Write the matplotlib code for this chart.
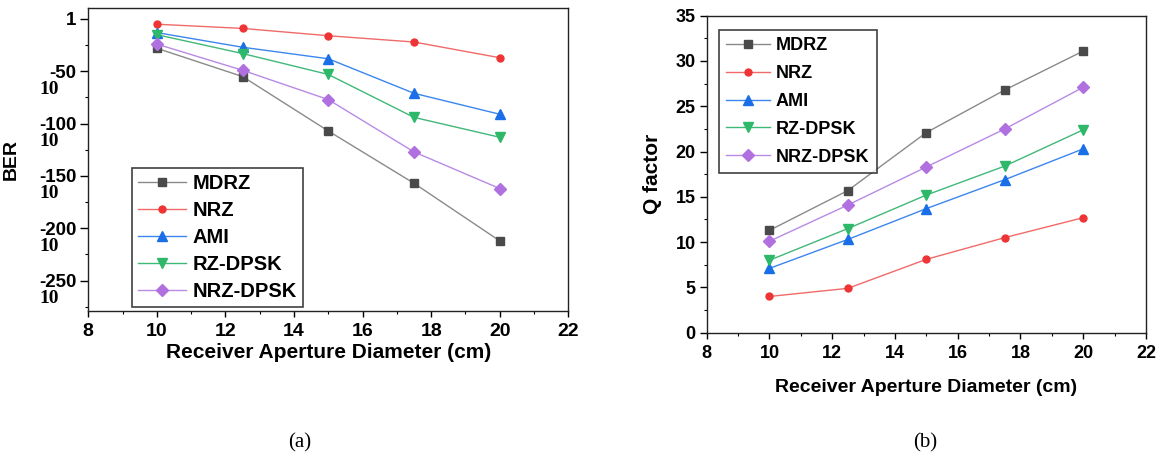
import matplotlib
matplotlib.use("Agg")
import matplotlib.pyplot as plt
from matplotlib.ticker import MultipleLocator

plt.rcParams['font.family'] = ['Liberation Sans', 'DejaVu Sans']
plt.rcParams['font.weight'] = 'bold'
plt.rcParams['axes.labelweight'] = 'bold'

# data
aperture = [10, 12.5, 15, 17.5, 20]
schemes = ['MDRZ', 'NRZ', 'AMI', 'RZ-DPSK', 'NRZ-DPSK']

# BER shown as log10 exponent
ber_mdrz = [-28, -55, -107, -157, -212]
ber_nrz = [-5, -9, -16, -22, -37]
ber_ami = [-13, -27, -38, -71, -91]
ber_rzdpsk = [-15, -33, -53, -94, -113]
ber_nrzdpsk = [-24, -49, -77, -127, -162]

q_mdrz = [11.3, 15.7, 22.1, 26.8, 31.1]
q_nrz = [4.0, 4.9, 8.1, 10.5, 12.7]
q_ami = [7.1, 10.3, 13.7, 16.9, 20.3]
q_rzdpsk = [8.0, 11.5, 15.2, 18.4, 22.4]
q_nrzdpsk = [10.1, 14.1, 18.3, 22.5, 27.1]

ber_ticks = [0, -50, -100, -150, -200, -250]
ber_ticklabels = ['1', '-50', '-100', '-150', '-200', '-250']

line_colors = ['#8a8a8a', '#f06a6a', '#3c86ee', '#40b878', '#b88ae6']
marker_colors = ['#4a4a4a', '#ee3434', '#1a6ee8', '#2eb86a', '#b070e0']
markers = ['s', 'o', '^', 'v', 'D']
msizes = [6, 5, 6.5, 6.5, 6]

fig = plt.figure(figsize=(11.62, 4.55), dpi=100)
W, H = 1162, 455
ax1 = fig.add_axes([88.3 / W, 1 - 311 / H, 480 / W, 303 / H])
ax2 = fig.add_axes([706.7 / W, 1 - 332.7 / H, 439.3 / W, 317 / H])


def style(ax, fs):
    for s in ax.spines.values():
        s.set_linewidth(1.0)
        s.set_color('#222222')
    ax.tick_params(which='major', direction='out', length=4, width=1.0, pad=5,
                   labelsize=fs, top=False, right=False)
    ax.tick_params(which='minor', direction='out', length=2.2, width=0.8,
                   top=False, right=False)
    ax.xaxis.set_major_locator(MultipleLocator(2))
    ax.xaxis.set_minor_locator(MultipleLocator(1))
    ax.set_xlim(8, 22)


# (a) BER
ber_all = [ber_mdrz, ber_nrz, ber_ami, ber_rzdpsk, ber_nrzdpsk]
for i, name in enumerate(schemes):
    ax1.plot(aperture, ber_all[i], color=line_colors[i], lw=1.0, marker=markers[i],
             ms=msizes[i], mfc=marker_colors[i], mec=marker_colors[i], label=name)
style(ax1, 14)
ax1.set_ylim(-279, 10.5)
ax1.set_yticks(ber_ticks)
ax1.set_yticklabels(ber_ticklabels, fontsize=13.5)
ax1.tick_params(axis='y', which='major', length=5.5, pad=3)
ax1.yaxis.set_minor_locator(MultipleLocator(25))
for t in ber_ticks[1:]:
    ax1.annotate('10', xy=(0, t), xycoords=('axes fraction', 'data'),
                 xytext=(-39, -18), textcoords='offset pixels', ha='center',
                 va='center', fontsize=14, family='Liberation Serif',
                 fontweight='bold')
ax1.set_xlabel('Receiver Aperture Diameter (cm)', fontsize=15, labelpad=2)
ax1.set_ylabel('BER', fontsize=14)
ax1.yaxis.set_label_coords(-0.142, 0.5)
leg1 = ax1.legend(loc='upper left', bbox_to_anchor=(0.09, 0.472), borderaxespad=0,
                  fontsize=14.5, frameon=True, fancybox=False, edgecolor='#111111',
                  handlelength=2.4, handletextpad=0.35, labelspacing=0.4,
                  borderpad=0.3)
leg1.get_frame().set_linewidth(1.2)

# (b) Q factor
q_all = [q_mdrz, q_nrz, q_ami, q_rzdpsk, q_nrzdpsk]
for i, name in enumerate(schemes):
    ax2.plot(aperture, q_all[i], color=line_colors[i], lw=1.0, marker=markers[i],
             ms=msizes[i], mfc=marker_colors[i], mec=marker_colors[i], label=name)
style(ax2, 13)
ax2.set_ylim(0, 35)
ax2.yaxis.set_major_locator(MultipleLocator(5))
ax2.yaxis.set_minor_locator(MultipleLocator(2.5))
ax2.tick_params(axis='y', which='major', length=5, pad=3)
ax2.set_xlabel('Receiver Aperture Diameter (cm)', fontsize=14, labelpad=12)
ax2.set_ylabel('Q factor', fontsize=15)
ax2.yaxis.set_label_coords(-0.102, 0.5)
leg2 = ax2.legend(loc='upper left', bbox_to_anchor=(0.028, 0.955), borderaxespad=0,
                  fontsize=13, frameon=True, fancybox=False, edgecolor='#111111',
                  handlelength=2.4, handletextpad=0.35, labelspacing=0.6,
                  borderpad=0.4)
leg2.get_frame().set_linewidth(1.2)

fig.text(300 / W, 1 - 443 / H, '(a)', ha='center', va='center', fontsize=15,
         family='Liberation Serif', fontweight='normal')
fig.text(925 / W, 1 - 443 / H, '(b)', ha='center', va='center', fontsize=15,
         family='Liberation Serif', fontweight='normal')

fig.savefig('out.png', dpi=100)
